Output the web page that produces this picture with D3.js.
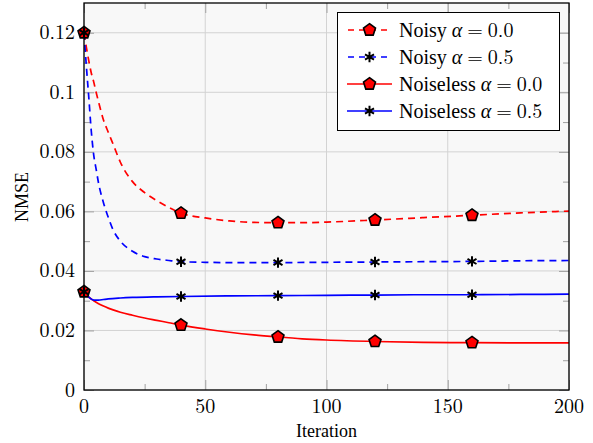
<!DOCTYPE html>
<html><head><meta charset="utf-8">
<script src="https://cdn.jsdelivr.net/npm/d3@7"></script>
<style>body{margin:0;background:#fff}svg{display:block}</style>
</head><body><div id="chart"></div>
<script>
// ---- data ----
const iterNoisyA0 = [0,1,2,3,4,5,6,8,10,12,15,20,25,30,35,40,50,60,70,80,90,100,120,140,160,180,200];
const noisyA0     = [0.120,0.1150,0.1105,0.1065,0.1035,0.1000,0.0968,0.0908,0.0866,0.0826,0.0765,0.0700,0.0663,0.0636,0.0613,0.0594,0.0578,0.0568,0.0563,0.0562,0.0562,0.0564,0.0571,0.0579,0.0587,0.0595,0.0601];
const iterNoisyA5 = [0,1,2,3,4,5,6,8,10,12,15,20,25,30,35,40,50,60,80,100,120,140,160,180,200];
const noisyA5     = [0.120,0.1085,0.0980,0.0870,0.0790,0.0742,0.0695,0.0630,0.0580,0.0538,0.0500,0.0466,0.0448,0.0440,0.0435,0.0431,0.0429,0.0428,0.0428,0.0429,0.0430,0.0431,0.0432,0.0434,0.0435];
const iterCleanA0 = [0,2,4,6,8,10,12,15,20,25,30,35,40,50,60,70,80,90,100,120,140,160,180,200];
const cleanA0     = [0.0330,0.0312,0.0300,0.0290,0.0282,0.0275,0.0269,0.0261,0.0251,0.0242,0.0234,0.0226,0.0218,0.0205,0.0194,0.0185,0.0178,0.0172,0.0168,0.0163,0.0160,0.0159,0.0158,0.0158];
const iterCleanA5 = [0,2,4,6,8,10,15,20,30,40,60,80,100,120,140,160,180,200];
const cleanA5     = [0.0330,0.0312,0.0302,0.0302,0.0304,0.0306,0.0309,0.0311,0.0313,0.0314,0.0316,0.0317,0.0318,0.0319,0.0320,0.0320,0.0321,0.0322];
const markerIters = [0,40,80,120,160];
const xTicks = [0,50,100,150,200];
const xMinorTicks = [25,75,125,175];
const yTicks = [0,0.02,0.04,0.06,0.08,0.1,0.12];
const yTickLabels = ["0","0.02","0.04","0.06","0.08","0.1","0.12"];
const yMinorTicks = [0.01,0.03,0.05,0.07,0.09,0.11];
const seriesNames = ["Noisy","Noisy","Noiseless","Noiseless"];
const seriesAlphas = ["0.0","0.5","0.0","0.5"];

const series = [
  {x:iterNoisyA0, y:noisyA0, color:"#ff0000", dash:"7,5", mark:"pent"},
  {x:iterNoisyA5, y:noisyA5, color:"#0000ff", dash:"7,5", mark:"ast"},
  {x:iterCleanA0, y:cleanA0, color:"#ff0000", dash:null, mark:"pent"},
  {x:iterCleanA5, y:cleanA5, color:"#0000ff", dash:null, mark:"ast"}
];

const TIMES = "'Liberation Serif'";
const CM = "'Latin Modern Roman'";
const W=593,H=443, L=84,R=569,T=3,B=390;
const svg=d3.select("#chart").append("svg").attr("width",W).attr("height",H);
const x=d3.scaleLinear().domain([0,200]).range([L,R]);
const y=d3.scaleLinear().domain([0,0.13]).range([B,T]);

svg.append("rect").attr("x",L).attr("y",T).attr("width",R-L).attr("height",B-T).attr("fill","#f8f8f8");

// grid
const g=svg.append("g");
g.selectAll(".gx").data(xTicks).join("line").attr("x1",d=>x(d)).attr("x2",d=>x(d)).attr("y1",T).attr("y2",B).attr("stroke","#d3d3d3").attr("stroke-width",1);
g.selectAll(".gy").data(yTicks).join("line").attr("y1",d=>y(d)).attr("y2",d=>y(d)).attr("x1",L).attr("x2",R).attr("stroke","#d3d3d3").attr("stroke-width",1);

// axes (ticks inside, via d3.axis)
const tickCol="#a0a0a0";
function styleAx(sel){sel.select(".domain").remove();sel.selectAll(".tick line").attr("stroke",tickCol);sel.selectAll("text").remove();}
svg.append("g").attr("transform",`translate(0,${B})`).call(d3.axisTop(x).tickValues(xTicks).tickSize(10)).call(styleAx);
svg.append("g").attr("transform",`translate(0,${B})`).call(d3.axisTop(x).tickValues(xMinorTicks).tickSize(6)).call(styleAx);
svg.append("g").attr("transform",`translate(0,${T})`).call(d3.axisBottom(x).tickValues(xTicks).tickSize(10)).call(styleAx);
svg.append("g").attr("transform",`translate(0,${T})`).call(d3.axisBottom(x).tickValues(xMinorTicks).tickSize(6)).call(styleAx);
svg.append("g").attr("transform",`translate(${L},0)`).call(d3.axisRight(y).tickValues(yTicks).tickSize(10)).call(styleAx);
svg.append("g").attr("transform",`translate(${L},0)`).call(d3.axisRight(y).tickValues(yMinorTicks).tickSize(6)).call(styleAx);
svg.append("g").attr("transform",`translate(${R},0)`).call(d3.axisLeft(y).tickValues(yTicks).tickSize(10)).call(styleAx);
svg.append("g").attr("transform",`translate(${R},0)`).call(d3.axisLeft(y).tickValues(yMinorTicks).tickSize(6)).call(styleAx);

// tick labels
svg.selectAll(".xl").data(xTicks).join("text").style("font-family",CM).style("font-size","20px")
  .attr("x",d=>x(d)).attr("y",B+23).attr("text-anchor","middle").text(d=>d);
svg.selectAll(".yl").data(yTicks).join("text").style("font-family",CM).style("font-size","20px")
  .attr("x",L-9).attr("y",d=>y(d)+6.5).attr("text-anchor","end").text((d,i)=>yTickLabels[i]);

// labels
svg.append("text").style("font-family",TIMES).style("font-size","18px").attr("x",(L+R)/2).attr("y",437).attr("text-anchor","middle").text("Iteration");
svg.append("text").style("font-family",TIMES).style("font-size","18px").attr("transform","translate(28,197) rotate(-90)").attr("text-anchor","middle").text("NMSE");

// curves
const line=d3.line().x(d=>x(d[0])).y(d=>y(d[1])).curve(d3.curveMonotoneX);
svg.append("clipPath").attr("id","cp").append("rect").attr("x",L).attr("y",T).attr("width",R-L).attr("height",B-T);
const curves=svg.append("g").attr("clip-path","url(#cp)");
series.forEach(s=>{
  curves.append("path").datum(s.x.map((v,i)=>[v,s.y[i]])).attr("d",line).attr("fill","none")
    .attr("stroke",s.color).attr("stroke-width",1.7).attr("stroke-dasharray",s.dash);
});

// markers
function pentPath(r){let p=[];for(let k=0;k<5;k++){const a=-Math.PI/2+k*2*Math.PI/5;p.push([r*Math.cos(a),r*Math.sin(a)]);}return "M"+p.map(q=>q.join(",")).join("L")+"Z";}
function astPath(r){let s="";[90,30,-30].forEach(a=>{const t=a*Math.PI/180;s+=`M${r*Math.cos(t)},${-r*Math.sin(t)}L${-r*Math.cos(t)},${r*Math.sin(t)}`;});return s;}
function drawMark(sel,type){
  if(type==="pent") sel.append("path").attr("d",pentPath(6.3)).attr("fill","#ff0000").attr("stroke","#000").attr("stroke-width",1.6).attr("stroke-linejoin","miter");
  else sel.append("path").attr("d",astPath(5.2)).attr("fill","none").attr("stroke","#000").attr("stroke-width",2);
}
const mk=svg.append("g");
series.forEach(s=>{
  markerIters.forEach(m=>{
    const i=s.x.indexOf(m);
    const gg=mk.append("g").attr("transform",`translate(${x(m)},${y(s.y[i])})`);
    drawMark(gg,s.mark);
  });
});

// frame
svg.append("rect").attr("x",L).attr("y",T).attr("width",R-L).attr("height",B-T).attr("fill","none").attr("stroke","#000").attr("stroke-width",1.3);

// legend
const lg=svg.append("g");
lg.append("rect").attr("x",337.5).attr("y",12.5).attr("width",222).attr("height",118).attr("fill","#fff").attr("stroke","#000").attr("stroke-width",1);
const rowY=[30,57,84,111];
series.forEach((s,i)=>{
  const yy=rowY[i];
  lg.append("line").attr("x1",347).attr("x2",392).attr("y1",yy).attr("y2",yy).attr("stroke",s.color).attr("stroke-width",1.7).attr("stroke-dasharray",s.dash?"6,5":null).attr("stroke-dashoffset",s.dash?-1:0);
  drawMark(lg.append("g").attr("transform",`translate(369.5,${yy})`),s.mark);
  const t=lg.append("text").attr("x",399).attr("y",yy+6.5).style("font-family",TIMES).style("font-size","20px");
  t.append("tspan").text(seriesNames[i]+" ");
  t.append("tspan").style("font-family",CM).style("font-style","italic").text("α");
  t.append("tspan").style("font-family",CM).attr("dx",5).text("=");
  t.append("tspan").style("font-family",CM).attr("dx",5).text(seriesAlphas[i]);
});
</script></body></html>
